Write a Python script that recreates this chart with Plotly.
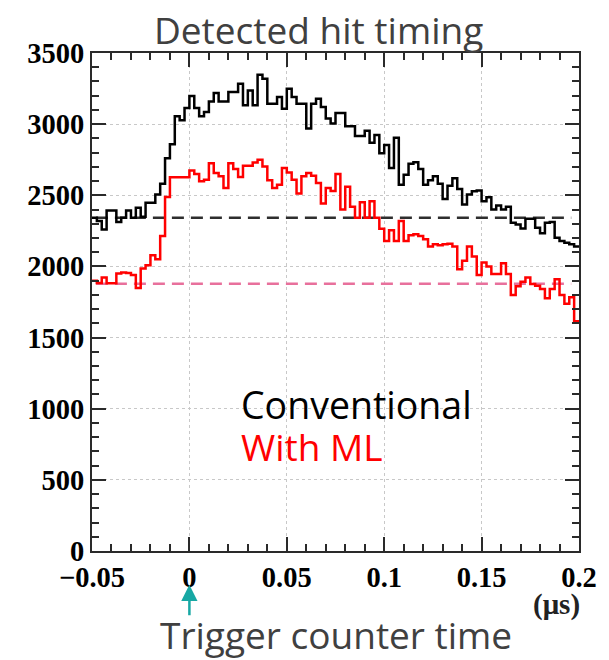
import numpy as np
import plotly.graph_objects as go

# Histogram binning (microseconds)
T_MIN, T_MAX, N_BINS = -0.05, 0.20, 100

# Counts per bin: conventional hit finding
conventional = [
    2342, 2319, 2260, 2393, 2393, 2312, 2342, 2393, 2342, 2412,
    2349, 2447, 2447, 2505, 2581, 2760, 2858, 3056, 3028, 3114,
    3198, 3114, 3056, 3086, 3160, 3219, 3160, 3160, 3226, 3226,
    3284, 3133, 3237, 3133, 3347, 3319, 3144, 3144, 3191, 3109,
    3249, 3191, 3144, 3144, 2970, 3144, 3179, 3121, 3040, 3005,
    3079, 3079, 2986, 2986, 2916, 2916, 2953, 2870, 2923, 2795,
    2853, 2691, 2905, 2574, 2644, 2721, 2733, 2684, 2574, 2605,
    2633, 2581, 2474, 2567, 2619, 2544, 2435, 2505, 2528, 2533,
    2458, 2486, 2400, 2428, 2400, 2419, 2307, 2295, 2267, 2335,
    2335, 2272, 2233, 2307, 2312, 2202, 2179, 2167, 2156, 2140,
]

# Counts per bin: ML-based hit finding
with_ml = [
    1900, 1884, 1923, 1881, 1881, 1951, 1958, 1953, 1940, 1849,
    1986, 2009, 2079, 2051, 2214, 2488, 2626, 2626, 2626, 2626,
    2674, 2649, 2598, 2609, 2726, 2656, 2633, 2551, 2726, 2684,
    2628, 2707, 2707, 2730, 2749, 2702, 2605, 2551, 2574, 2691,
    2660, 2610, 2512, 2633, 2656, 2637, 2586, 2442, 2551, 2530,
    2650, 2400, 2560, 2419, 2342, 2451, 2342, 2458, 2342, 2265,
    2179, 2254, 2179, 2319, 2179, 2219, 2226, 2214, 2191, 2140,
    2156, 2149, 2156, 2160, 2140, 1981, 2040, 2140, 2070, 1940,
    2028, 2000, 1947, 1947, 2023, 1947, 1800, 1860, 1893, 1923,
    1877, 1865, 1842, 1777, 1842, 1910, 1800, 1737, 1784, 1614,
]

# Flat background levels and the range they were evaluated over
bg_conventional = 2342
bg_with_ml = 1878
bg_range = [-0.048, 0.196]

x_ticks = [-0.05, 0, 0.05, 0.1, 0.15, 0.2]
x_tick_text = ["\u22120.05", "0", "0.05", "0.1", "0.15", "0.2"]
y_ticks = [0, 500, 1000, 1500, 2000, 2500, 3000, 3500]

edges = np.linspace(T_MIN, T_MAX, N_BINS + 1)


def step_y(vals):
    return list(vals) + [vals[-1]]


fig = go.Figure()

fig.add_trace(go.Scatter(
    x=bg_range, y=[bg_conventional] * 2, mode="lines",
    line=dict(color="#2e2e2e", width=2.5, dash="12px,7px"),
    hoverinfo="skip", showlegend=False,
))
fig.add_trace(go.Scatter(
    x=bg_range, y=[bg_with_ml] * 2, mode="lines",
    line=dict(color="#e8709c", width=2.5, dash="12px,7px"),
    hoverinfo="skip", showlegend=False,
))
fig.add_trace(go.Scatter(
    x=edges, y=step_y(conventional), mode="lines", line_shape="hv",
    line=dict(color="black", width=2.5), name="Conventional", showlegend=False,
))
fig.add_trace(go.Scatter(
    x=edges, y=step_y(with_ml), mode="lines", line_shape="hv",
    line=dict(color="#ff0000", width=2.5), name="With ML", showlegend=False,
))

tick_font = dict(family="Liberation Serif", size=28.5, color="black", weight="bold")
axis_common = dict(
    showline=True, linecolor="#2a2a2a", linewidth=2, mirror="ticks",
    ticks="inside", tickcolor="#2a2a2a", tickwidth=1.5, ticklen=14,
    showgrid=True, gridcolor="#c8c8c8", gridwidth=1, griddash="dot",
    zeroline=False, tickfont=tick_font,
)

fig.update_xaxes(
    range=[T_MIN, T_MAX], tickvals=x_ticks, ticktext=x_tick_text,
    minor=dict(ticks="inside", ticklen=7, dtick=0.01, tick0=0,
               tickcolor="#2a2a2a", showgrid=False),
    **axis_common,
)
fig.update_yaxes(
    range=[0, 3500], tickvals=y_ticks,
    minor=dict(ticks="inside", ticklen=7, dtick=100, tick0=0,
               tickcolor="#2a2a2a", showgrid=False),
    **axis_common,
)

text_font = dict(family="Open Sans", size=37, color="#404040")

annotations = [
    dict(text="Detected hit timing", xref="paper", yref="paper",
         x=0.466, y=1.048, xanchor="center", yanchor="middle",
         showarrow=False, font=text_font),
    dict(text="Conventional", xref="paper", yref="paper",
         x=0.301, y=0.295, xanchor="left", yanchor="middle",
         showarrow=False, font=dict(family="Open Sans", size=37.5, color="black")),
    dict(text="With ML", xref="paper", yref="paper",
         x=0.301, y=0.209, xanchor="left", yanchor="middle",
         showarrow=False, font=dict(family="Open Sans", size=37, color="#ff0000")),
    dict(text="Trigger counter time", xref="paper", yref="paper",
         x=0.502, y=-0.168, xanchor="center", yanchor="middle",
         showarrow=False, font=text_font),
    dict(text="(\u03bcs)", xref="paper", yref="paper",
         x=1.006, y=-0.108, xanchor="right", yanchor="middle",
         showarrow=False,
         font=dict(family="Liberation Serif", size=29, color="#222222", weight="bold")),
    dict(text="", xref="x", yref="paper", x=0, y=-0.068,
         ax=0, ay=32, axref="pixel", ayref="pixel",
         showarrow=True, arrowhead=2, arrowsize=1.3, arrowwidth=2.5,
         arrowcolor="#17a8a4"),
]

fig.update_layout(
    width=609, height=660,
    margin=dict(l=92, r=28, t=53, b=109),
    plot_bgcolor="white", paper_bgcolor="white",
    showlegend=False, annotations=annotations,
)

fig.write_html("out.html")
